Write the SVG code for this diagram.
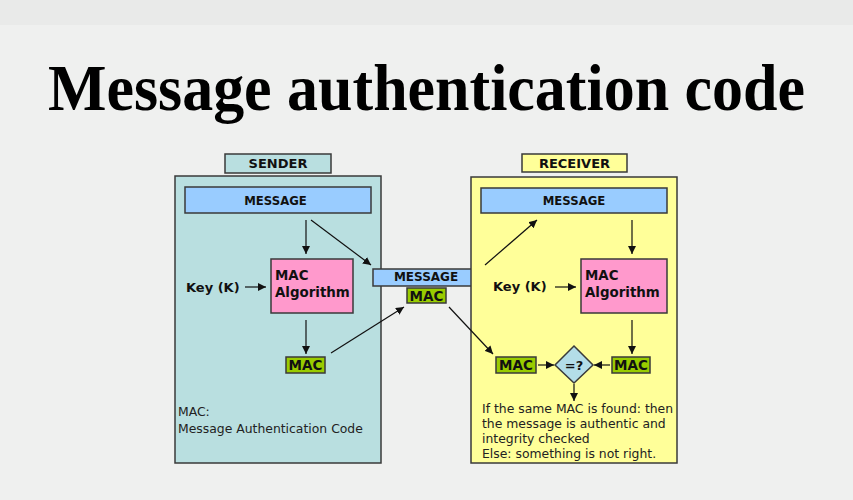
<svg xmlns="http://www.w3.org/2000/svg" width="853" height="500" viewBox="0 0 853 500">
<style>
.bd{stroke:#3a3a3a;stroke-width:1.5}
.b{font-family:"DejaVu Sans",Verdana,sans-serif;font-weight:bold;fill:#111}
.r{font-family:"DejaVu Sans",Verdana,sans-serif;fill:#222;font-size:12.4px}
.ln{stroke:#111;stroke-width:1.2;fill:none;marker-end:url(#ah)}
.msg{fill:#99ccff}
.mac{fill:#99cc00}
.alg{fill:#ff99cc}
</style>
<defs>
<marker id="ah" viewBox="0 0 10 10" refX="10" refY="5" markerWidth="8" markerHeight="8" markerUnits="userSpaceOnUse" orient="auto">
<path d="M0,0 L10,5 L0,10 z" fill="#111"/>
</marker>
</defs>
<rect x="0" y="0" width="853" height="500" fill="#eff0ef"/>
<rect x="0" y="0" width="853" height="25" fill="#e9eae9"/>
<text id="title" x="48" y="110" font-family="'Liberation Serif','Times New Roman',serif" font-weight="bold" font-size="65" textLength="757" lengthAdjust="spacingAndGlyphs" fill="#000">Message authentication code</text>

<g id="sender">
<rect x="175" y="176" width="206" height="287" fill="#b9dfe0" class="bd"/>
<rect x="225" y="154" width="106" height="19" fill="#b9dfe0" class="bd"/>
<text x="278" y="168" class="b" font-size="13" text-anchor="middle">SENDER</text>
</g>
<g id="sender-message">
<rect x="185" y="187" width="186" height="26" class="msg bd"/>
<text x="275.5" y="205" class="b" font-size="11.7" text-anchor="middle">MESSAGE</text>
</g>
<g id="sender-key"><text x="186" y="292" class="b" font-size="13">Key (K)</text></g>
<g id="sender-alg">
<rect x="271" y="259" width="82" height="54" class="alg bd"/>
<text x="275" y="280" class="b" font-size="13.4">MAC</text>
<text x="275" y="297" class="b" font-size="13.4">Algorithm</text>
</g>
<g id="sender-mac">
<rect x="286" y="357" width="39" height="16" class="mac bd"/>
<text x="305.5" y="370" class="b" font-size="13.5" text-anchor="middle">MAC</text>
</g>
<g id="sender-note">
<text x="178" y="416" class="r">MAC:</text>
<text x="178" y="433" class="r">Message Authentication Code</text>
</g>

<g id="transit">
<rect x="373" y="269" width="106" height="17" class="msg bd"/>
<text x="426" y="281" class="b" font-size="12" text-anchor="middle">MESSAGE</text>
<rect x="407" y="288" width="39" height="15" class="mac bd"/>
<text x="426.5" y="300.5" class="b" font-size="13.5" text-anchor="middle">MAC</text>
</g>

<g id="receiver">
<rect x="471" y="177" width="206" height="286" fill="#ffff99" class="bd"/>
<rect x="522" y="154" width="105" height="18" fill="#ffff99" class="bd"/>
<text x="574.5" y="168" class="b" font-size="13" text-anchor="middle">RECEIVER</text>
</g>
<g id="receiver-message">
<rect x="481" y="188" width="186" height="25" class="msg bd"/>
<text x="574" y="205" class="b" font-size="11.7" text-anchor="middle">MESSAGE</text>
</g>
<g id="receiver-key"><text x="493" y="291" class="b" font-size="13">Key (K)</text></g>
<g id="receiver-alg">
<rect x="581" y="259" width="86" height="54" class="alg bd"/>
<text x="585" y="280" class="b" font-size="13.4">MAC</text>
<text x="585" y="297" class="b" font-size="13.4">Algorithm</text>
</g>
<g id="receiver-mac1">
<rect x="496" y="357" width="40" height="16" class="mac bd"/>
<text x="516" y="370" class="b" font-size="13.5" text-anchor="middle">MAC</text>
</g>
<g id="receiver-mac2">
<rect x="612" y="357" width="38" height="16" class="mac bd"/>
<text x="631" y="370" class="b" font-size="13.5" text-anchor="middle">MAC</text>
</g>
<g id="compare">
<path d="M574,346 L593,365 L574,383 L555,365 z" fill="#b3dde8" class="bd"/>
<text x="574" y="370" class="b" font-size="13" text-anchor="middle">=?</text>
</g>
<g id="receiver-note">
<text x="482" y="413" class="r">If the same MAC is found: then</text>
<text x="482" y="428" class="r">the message is authentic and</text>
<text x="482" y="443" class="r">integrity checked</text>
<text x="482" y="458" class="r">Else: something is not right.</text>
</g>

<g id="connectors">
<line x1="306" y1="220" x2="306" y2="254" class="ln"/>
<line x1="311" y1="220" x2="371" y2="265" class="ln"/>
<line x1="245" y1="287" x2="266" y2="287" class="ln"/>
<line x1="306" y1="320" x2="306" y2="354" class="ln"/>
<line x1="331" y1="353" x2="404" y2="307" class="ln"/>
<line x1="449" y1="307" x2="493" y2="354" class="ln"/>
<line x1="485" y1="265" x2="537" y2="220" class="ln"/>
<line x1="632" y1="220" x2="632" y2="254" class="ln"/>
<line x1="555" y1="287" x2="576" y2="287" class="ln"/>
<line x1="632" y1="320" x2="632" y2="354" class="ln"/>
<line x1="538" y1="365" x2="554" y2="365" class="ln"/>
<line x1="610" y1="365" x2="594" y2="365" class="ln"/>
<line x1="574" y1="384" x2="574" y2="401" class="ln"/>
</g>
</svg>
